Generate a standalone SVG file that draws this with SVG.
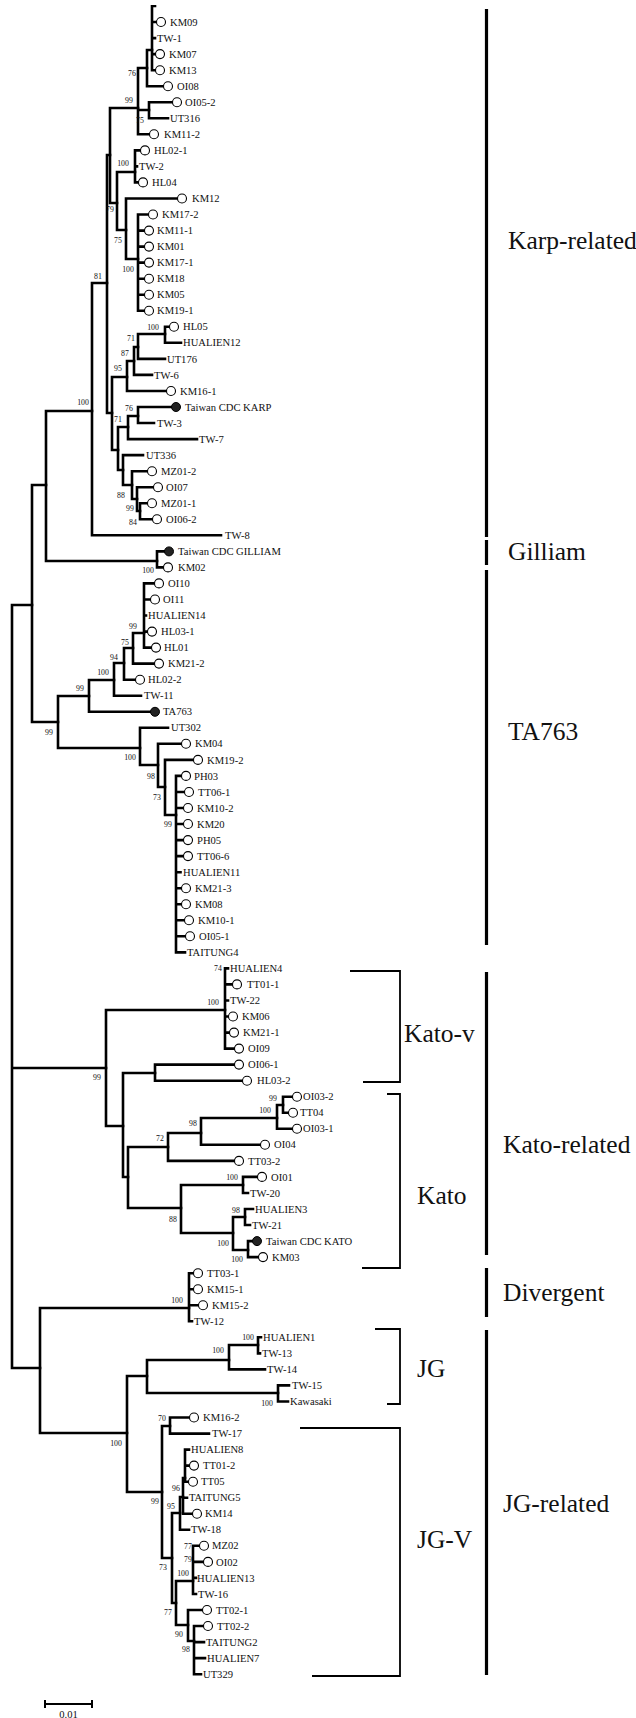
<svg xmlns="http://www.w3.org/2000/svg" width="636" height="1718" viewBox="0 0 636 1718">
<defs>
<style>
.br{fill:none;stroke:#000;stroke-width:2.6;stroke-linecap:square}
text{font-family:"Liberation Serif","Times New Roman",serif;fill:#111}
.lf{font-size:10.6px}
.bs{font-size:7.8px;text-anchor:middle}
.oc{fill:#fff;stroke:#000;stroke-width:1.1}
.fc{fill:#222;stroke:#000;stroke-width:1}
.cl{font-size:25.5px}
.bar{stroke:#000;stroke-width:3.2;fill:none}
.brk{fill:none;stroke:#000;stroke-width:1.8}
</style>
<clipPath id="top"><rect x="0" y="5" width="636" height="1713"/></clipPath>
</defs>
<rect width="636" height="1718" fill="#fff"/>
<g clip-path="url(#top)">
<g id="connectors" class="br">
<path d="M152 6V70.2M152 6H155M152 22H156M152 38.1H155M152 54.1H155.5M152 70.2H155.5"/>
<path d="M147 50V86.2M147 50H152M147 86.2H163"/>
<path d="M149 102.2V118.3M149 102.2H172M149 118.3H168"/>
<path d="M138 68V134.3M138 68H147M138 110H149M138 134.3H149.5"/>
<path d="M110 108V203M110 108H138M110 203H117"/>
<path d="M135 150.4V182.4M135 150.4H140M135 166.4H137M135 182.4H138.5"/>
<path d="M117 172V230M117 172H135M117 230H126"/>
<path d="M126 198.5V259M126 198.5H177M126 259H138"/>
<path d="M138 214.5V310.8M138 214.5H148M138 230.6H144M138 246.6H144M138 262.6H144M138 278.7H144M138 294.7H144M138 310.8H144"/>
<path d="M107 155V413M107 155H110M107 413H112"/>
<path d="M165 326.8V342.8M165 326.8H169.5M165 342.8H181"/>
<path d="M138 334V358.9M138 334H165M138 358.9H165"/>
<path d="M134 347V374.9M134 347H138M134 374.9H152"/>
<path d="M127 361V391M127 361H134M127 391H166.5"/>
<path d="M138 407V423M138 407H171.5M138 423H154"/>
<path d="M128 416V439.1M128 416H138M128 439.1H197"/>
<path d="M123 455.1V485M123 455.1H143M123 485H132"/>
<path d="M132 471.2V499M132 471.2H147.5M132 499H137"/>
<path d="M137 487.2V511M137 487.2H153.5M137 511H140"/>
<path d="M140 503.2V519.3M140 503.2H147.5M140 519.3H152.5"/>
<path d="M118 427V470M118 427H128M118 470H123"/>
<path d="M112 377V450M112 377H127M112 450H118"/>
<path d="M92 283V535.3M92 283H107M92 535.3H221"/>
<path d="M157 551.4V567.4M157 551.4H164.5M157 567.4H163.5"/>
<path d="M46 411V561M46 411H92M46 561H157"/>
<path d="M144 583.4V647.6M144 583.4H154.5M144 599.5H150.5M144 615.5H146M144 631.6H147.5M144 647.6H151.5"/>
<path d="M133 633V663.6M133 633H144M133 663.6H154.5"/>
<path d="M124 648V679.7M124 648H133M124 679.7H135.5"/>
<path d="M114 663V695.7M114 663H124M114 695.7H141"/>
<path d="M89 680V711.8M89 680H114M89 711.8H150.5"/>
<path d="M140 727.8V765M140 727.8H168M140 765H158"/>
<path d="M158 743.8V787M158 743.8H181.5M158 787H165"/>
<path d="M165 759.9V815M165 759.9H193.5M165 815H176"/>
<path d="M176 775.9V952.4M176 775.9H181.5M176 792H184.5M176 808H183.5M176 824H183.5M176 840.1H183.5M176 856.1H183.5M176 872.2H180.5M176 888.2H181.5M176 904.2H181.5M176 920.3H184.5M176 936.3H185.5M176 952.4H185"/>
<path d="M58 696V748M58 696H89M58 748H140"/>
<path d="M32 485V722M32 485H46M32 722H58"/>
<path d="M12 605V1368M12 605H32M12 1068H106M12 1368H40"/>
<path d="M225 968.4V1048.6M225 968.4H228M225 984.4H232.5M225 1000.5H228M225 1016.5H228.5M225 1032.6H229.5M225 1048.6H234.5"/>
<path d="M106 1010V1126M106 1010H225M106 1126H123"/>
<path d="M155 1064.6V1080.7M155 1064.6H234.5M155 1080.7H242.5"/>
<path d="M123 1073V1177M123 1073H155M123 1177H128"/>
<path d="M283 1096.7V1112.8M283 1096.7H292.5M283 1112.8H288.5"/>
<path d="M277 1105V1128.8M277 1105H283M277 1128.8H292.5"/>
<path d="M201 1118V1144.8M201 1118H277M201 1144.8H260.5"/>
<path d="M168 1133V1160.9M168 1133H201M168 1160.9H234.5"/>
<path d="M128 1147V1208M128 1147H168M128 1208H181"/>
<path d="M243 1176.9V1193M243 1176.9H257.5M243 1193H248"/>
<path d="M245 1209V1225M245 1209H253M245 1225H250"/>
<path d="M248 1241.1V1257.1M248 1241.1H252.5M248 1257.1H258.5"/>
<path d="M233 1217V1250M233 1217H245M233 1250H248"/>
<path d="M181 1185V1233M181 1185H243M181 1233H233"/>
<path d="M189 1273.2V1321.3M189 1273.2H193.5M189 1289.2H193.5M189 1305.2H198.5M189 1321.3H192"/>
<path d="M258 1337.3V1353.4M258 1337.3H261M258 1353.4H260"/>
<path d="M229 1345V1369.4M229 1345H258M229 1369.4H265"/>
<path d="M278 1385.4V1401.5M278 1385.4H289M278 1401.5H288"/>
<path d="M147 1360V1393M147 1360H229M147 1393H278"/>
<path d="M170 1417.5V1433.6M170 1417.5H189.5M170 1433.6H209"/>
<path d="M185 1449.6V1481.7M185 1449.6H189M185 1465.6H189.5M185 1481.7H188.5"/>
<path d="M183 1478V1513.8M183 1478H185M183 1497.7H187M183 1513.8H192.5"/>
<path d="M180 1497V1529.8M180 1497H183M180 1529.8H189"/>
<path d="M193 1545.8V1594M193 1545.8H199.5M193 1561.9H203.5M193 1577.9H196M193 1594H196"/>
<path d="M194 1626V1674.2M194 1626H203.5M194 1642.1H204M194 1658.1H205M194 1674.2H201"/>
<path d="M188 1610V1641M188 1610H202.5M188 1641H194"/>
<path d="M176 1581V1625M176 1581H193M176 1625H188"/>
<path d="M172 1513V1603M172 1513H180M172 1603H176"/>
<path d="M162 1426V1558M162 1426H170M162 1558H172"/>
<path d="M127 1376V1492M127 1376H147M127 1492H162"/>
<path d="M40 1308V1433M40 1308H189M40 1433H127"/>
</g>
<g id="leaves" class="lf">
<g id="n-KM09"><circle class="oc" cx="161" cy="22" r="4.5"/><text x="170" y="25.6">KM09</text></g>
<g id="n-TW-1"><text x="157" y="41.7">TW-1</text></g>
<g id="n-KM07"><circle class="oc" cx="160" cy="54.1" r="4.5"/><text x="169" y="57.7">KM07</text></g>
<g id="n-KM13"><circle class="oc" cx="160" cy="70.2" r="4.5"/><text x="169" y="73.8">KM13</text></g>
<g id="n-OI08"><circle class="oc" cx="168" cy="86.2" r="4.5"/><text x="177" y="89.8">OI08</text></g>
<g id="n-OI05-2"><circle class="oc" cx="177" cy="102.2" r="4.5"/><text x="185" y="105.8">OI05-2</text></g>
<g id="n-UT316"><text x="170" y="121.9">UT316</text></g>
<g id="n-KM11-2"><circle class="oc" cx="154" cy="134.3" r="4.5"/><text x="164" y="137.9">KM11-2</text></g>
<g id="n-HL02-1"><circle class="oc" cx="145" cy="150.4" r="4.5"/><text x="154" y="154">HL02-1</text></g>
<g id="n-TW-2"><text x="139" y="170">TW-2</text></g>
<g id="n-HL04"><circle class="oc" cx="143" cy="182.4" r="4.5"/><text x="152" y="186">HL04</text></g>
<g id="n-KM12"><circle class="oc" cx="182" cy="198.5" r="4.5"/><text x="192" y="202.1">KM12</text></g>
<g id="n-KM17-2"><circle class="oc" cx="153" cy="214.5" r="4.5"/><text x="162" y="218.1">KM17-2</text></g>
<g id="n-KM11-1"><circle class="oc" cx="149" cy="230.6" r="4.5"/><text x="157" y="234.2">KM11-1</text></g>
<g id="n-KM01"><circle class="oc" cx="149" cy="246.6" r="4.5"/><text x="157" y="250.2">KM01</text></g>
<g id="n-KM17-1"><circle class="oc" cx="149" cy="262.6" r="4.5"/><text x="157" y="266.2">KM17-1</text></g>
<g id="n-KM18"><circle class="oc" cx="149" cy="278.7" r="4.5"/><text x="157" y="282.3">KM18</text></g>
<g id="n-KM05"><circle class="oc" cx="149" cy="294.7" r="4.5"/><text x="157" y="298.3">KM05</text></g>
<g id="n-KM19-1"><circle class="oc" cx="149" cy="310.8" r="4.5"/><text x="157" y="314.4">KM19-1</text></g>
<g id="n-HL05"><circle class="oc" cx="174" cy="326.8" r="4.5"/><text x="183" y="330.4">HL05</text></g>
<g id="n-HUALIEN12"><text x="183" y="346.4">HUALIEN12</text></g>
<g id="n-UT176"><text x="167" y="362.5">UT176</text></g>
<g id="n-TW-6"><text x="154" y="378.5">TW-6</text></g>
<g id="n-KM16-1"><circle class="oc" cx="171" cy="391" r="4.5"/><text x="180" y="394.6">KM16-1</text></g>
<g id="n-KARP"><circle class="fc" cx="176" cy="407" r="4.5"/><text x="185" y="410.6">Taiwan CDC KARP</text></g>
<g id="n-TW-3"><text x="157" y="426.6">TW-3</text></g>
<g id="n-TW-7"><text x="199" y="442.7">TW-7</text></g>
<g id="n-UT336"><text x="146" y="458.7">UT336</text></g>
<g id="n-MZ01-2"><circle class="oc" cx="152" cy="471.2" r="4.5"/><text x="161" y="474.8">MZ01-2</text></g>
<g id="n-OI07"><circle class="oc" cx="158" cy="487.2" r="4.5"/><text x="166" y="490.8">OI07</text></g>
<g id="n-MZ01-1"><circle class="oc" cx="152" cy="503.2" r="4.5"/><text x="161" y="506.8">MZ01-1</text></g>
<g id="n-OI06-2"><circle class="oc" cx="157" cy="519.3" r="4.5"/><text x="166" y="522.9">OI06-2</text></g>
<g id="n-TW-8"><text x="225" y="538.9">TW-8</text></g>
<g id="n-GILLIAM"><circle class="fc" cx="169" cy="551.4" r="4.5"/><text x="178" y="555">Taiwan CDC GILLIAM</text></g>
<g id="n-KM02"><circle class="oc" cx="168" cy="567.4" r="4.5"/><text x="178" y="571">KM02</text></g>
<g id="n-OI10"><circle class="oc" cx="159" cy="583.4" r="4.5"/><text x="168" y="587">OI10</text></g>
<g id="n-OI11"><circle class="oc" cx="155" cy="599.5" r="4.5"/><text x="163" y="603.1">OI11</text></g>
<g id="n-HUALIEN14"><text x="148" y="619.1">HUALIEN14</text></g>
<g id="n-HL03-1"><circle class="oc" cx="152" cy="631.6" r="4.5"/><text x="161" y="635.2">HL03-1</text></g>
<g id="n-HL01"><circle class="oc" cx="156" cy="647.6" r="4.5"/><text x="164" y="651.2">HL01</text></g>
<g id="n-KM21-2"><circle class="oc" cx="159" cy="663.6" r="4.5"/><text x="168" y="667.2">KM21-2</text></g>
<g id="n-HL02-2"><circle class="oc" cx="140" cy="679.7" r="4.5"/><text x="148" y="683.3">HL02-2</text></g>
<g id="n-TW-11"><text x="144" y="699.3">TW-11</text></g>
<g id="n-TA763"><circle class="fc" cx="155" cy="711.8" r="4.5"/><text x="163" y="715.4">TA763</text></g>
<g id="n-UT302"><text x="171" y="731.4">UT302</text></g>
<g id="n-KM04"><circle class="oc" cx="186" cy="743.8" r="4.5"/><text x="195" y="747.4">KM04</text></g>
<g id="n-KM19-2"><circle class="oc" cx="198" cy="759.9" r="4.5"/><text x="207" y="763.5">KM19-2</text></g>
<g id="n-PH03"><circle class="oc" cx="186" cy="775.9" r="4.5"/><text x="194" y="779.5">PH03</text></g>
<g id="n-TT06-1"><circle class="oc" cx="189" cy="792" r="4.5"/><text x="198" y="795.6">TT06-1</text></g>
<g id="n-KM10-2"><circle class="oc" cx="188" cy="808" r="4.5"/><text x="197" y="811.6">KM10-2</text></g>
<g id="n-KM20"><circle class="oc" cx="188" cy="824" r="4.5"/><text x="197" y="827.6">KM20</text></g>
<g id="n-PH05"><circle class="oc" cx="188" cy="840.1" r="4.5"/><text x="197" y="843.7">PH05</text></g>
<g id="n-TT06-6"><circle class="oc" cx="188" cy="856.1" r="4.5"/><text x="197" y="859.7">TT06-6</text></g>
<g id="n-HUALIEN11"><text x="183" y="875.8">HUALIEN11</text></g>
<g id="n-KM21-3"><circle class="oc" cx="186" cy="888.2" r="4.5"/><text x="195" y="891.8">KM21-3</text></g>
<g id="n-KM08"><circle class="oc" cx="186" cy="904.2" r="4.5"/><text x="195" y="907.8">KM08</text></g>
<g id="n-KM10-1"><circle class="oc" cx="189" cy="920.3" r="4.5"/><text x="198" y="923.9">KM10-1</text></g>
<g id="n-OI05-1"><circle class="oc" cx="190" cy="936.3" r="4.5"/><text x="199" y="939.9">OI05-1</text></g>
<g id="n-TAITUNG4"><text x="187" y="956">TAITUNG4</text></g>
<g id="n-HUALIEN4"><text x="230" y="972">HUALIEN4</text></g>
<g id="n-TT01-1"><circle class="oc" cx="237" cy="984.4" r="4.5"/><text x="247" y="988">TT01-1</text></g>
<g id="n-TW-22"><text x="230" y="1004.1">TW-22</text></g>
<g id="n-KM06"><circle class="oc" cx="233" cy="1016.5" r="4.5"/><text x="242" y="1020.1">KM06</text></g>
<g id="n-KM21-1"><circle class="oc" cx="234" cy="1032.6" r="4.5"/><text x="243" y="1036.2">KM21-1</text></g>
<g id="n-OI09"><circle class="oc" cx="239" cy="1048.6" r="4.5"/><text x="248" y="1052.2">OI09</text></g>
<g id="n-OI06-1"><circle class="oc" cx="239" cy="1064.6" r="4.5"/><text x="248" y="1068.2">OI06-1</text></g>
<g id="n-HL03-2"><circle class="oc" cx="247" cy="1080.7" r="4.5"/><text x="257" y="1084.3">HL03-2</text></g>
<g id="n-OI03-2"><circle class="oc" cx="297" cy="1096.7" r="4.5"/><text x="303" y="1100.3">OI03-2</text></g>
<g id="n-TT04"><circle class="oc" cx="293" cy="1112.8" r="4.5"/><text x="300" y="1116.4">TT04</text></g>
<g id="n-OI03-1"><circle class="oc" cx="297" cy="1128.8" r="4.5"/><text x="303" y="1132.4">OI03-1</text></g>
<g id="n-OI04"><circle class="oc" cx="265" cy="1144.8" r="4.5"/><text x="274" y="1148.4">OI04</text></g>
<g id="n-TT03-2"><circle class="oc" cx="239" cy="1160.9" r="4.5"/><text x="248" y="1164.5">TT03-2</text></g>
<g id="n-OI01"><circle class="oc" cx="262" cy="1176.9" r="4.5"/><text x="271" y="1180.5">OI01</text></g>
<g id="n-TW-20"><text x="250" y="1196.6">TW-20</text></g>
<g id="n-HUALIEN3"><text x="255" y="1212.6">HUALIEN3</text></g>
<g id="n-TW-21"><text x="252" y="1228.6">TW-21</text></g>
<g id="n-KATO"><circle class="fc" cx="257" cy="1241.1" r="4.5"/><text x="266" y="1244.7">Taiwan CDC KATO</text></g>
<g id="n-KM03"><circle class="oc" cx="263" cy="1257.1" r="4.5"/><text x="272" y="1260.7">KM03</text></g>
<g id="n-TT03-1"><circle class="oc" cx="198" cy="1273.2" r="4.5"/><text x="207" y="1276.8">TT03-1</text></g>
<g id="n-KM15-1"><circle class="oc" cx="198" cy="1289.2" r="4.5"/><text x="207" y="1292.8">KM15-1</text></g>
<g id="n-KM15-2"><circle class="oc" cx="203" cy="1305.2" r="4.5"/><text x="212" y="1308.8">KM15-2</text></g>
<g id="n-TW-12"><text x="194" y="1324.9">TW-12</text></g>
<g id="n-HUALIEN1"><text x="263" y="1340.9">HUALIEN1</text></g>
<g id="n-TW-13"><text x="262" y="1357">TW-13</text></g>
<g id="n-TW-14"><text x="267" y="1373">TW-14</text></g>
<g id="n-TW-15"><text x="292" y="1389">TW-15</text></g>
<g id="n-Kawasaki"><text x="290" y="1405.1">Kawasaki</text></g>
<g id="n-KM16-2"><circle class="oc" cx="194" cy="1417.5" r="4.5"/><text x="203" y="1421.1">KM16-2</text></g>
<g id="n-TW-17"><text x="212" y="1437.2">TW-17</text></g>
<g id="n-HUALIEN8"><text x="191" y="1453.2">HUALIEN8</text></g>
<g id="n-TT01-2"><circle class="oc" cx="194" cy="1465.6" r="4.5"/><text x="203" y="1469.2">TT01-2</text></g>
<g id="n-TT05"><circle class="oc" cx="193" cy="1481.7" r="4.5"/><text x="201" y="1485.3">TT05</text></g>
<g id="n-TAITUNG5"><text x="189" y="1501.3">TAITUNG5</text></g>
<g id="n-KM14"><circle class="oc" cx="197" cy="1513.8" r="4.5"/><text x="205" y="1517.4">KM14</text></g>
<g id="n-TW-18"><text x="191" y="1533.4">TW-18</text></g>
<g id="n-MZ02"><circle class="oc" cx="204" cy="1545.8" r="4.5"/><text x="212" y="1549.4">MZ02</text></g>
<g id="n-OI02"><circle class="oc" cx="208" cy="1561.9" r="4.5"/><text x="216" y="1565.5">OI02</text></g>
<g id="n-HUALIEN13"><text x="197" y="1581.5">HUALIEN13</text></g>
<g id="n-TW-16"><text x="198" y="1597.6">TW-16</text></g>
<g id="n-TT02-1"><circle class="oc" cx="207" cy="1610" r="4.5"/><text x="216" y="1613.6">TT02-1</text></g>
<g id="n-TT02-2"><circle class="oc" cx="208" cy="1626" r="4.5"/><text x="217" y="1629.6">TT02-2</text></g>
<g id="n-TAITUNG2"><text x="206" y="1645.7">TAITUNG2</text></g>
<g id="n-HUALIEN7"><text x="207" y="1661.7">HUALIEN7</text></g>
<g id="n-UT329"><text x="203" y="1677.8">UT329</text></g>
</g>
<g id="bootstrap" class="bs">
<text x="132" y="75.8">76</text><text x="129" y="102.8">99</text><text x="140" y="122.8">75</text>
<text x="123" y="165.8">100</text><text x="110" y="211.8">79</text><text x="118" y="242.8">75</text>
<text x="128" y="271.8">100</text><text x="98" y="278.8">81</text><text x="153" y="329.8">100</text>
<text x="131" y="340.8">71</text><text x="125" y="355.8">87</text><text x="118" y="370.8">95</text>
<text x="129" y="410.8">76</text><text x="83" y="404.8">100</text><text x="118" y="421.8">71</text>
<text x="121" y="497.8">88</text><text x="130" y="510.8">99</text><text x="133" y="524.8">84</text>
<text x="148" y="572.8">100</text><text x="133" y="628.8">99</text><text x="125" y="644.8">75</text>
<text x="114" y="659.8">94</text><text x="103" y="674.8">100</text><text x="80" y="690.8">99</text>
<text x="49" y="734.8">99</text><text x="130" y="759.8">100</text><text x="151" y="778.8">98</text>
<text x="157" y="799.8">73</text><text x="168" y="826.8">99</text><text x="218" y="970.8">74</text>
<text x="213" y="1004.8">100</text><text x="97" y="1079.8">99</text><text x="273" y="1100.8">99</text>
<text x="265" y="1112.8">100</text><text x="193" y="1125.8">98</text><text x="160" y="1140.8">72</text>
<text x="232" y="1179.8">100</text><text x="236" y="1212.8">98</text><text x="173" y="1221.8">88</text>
<text x="223" y="1245.8">100</text><text x="237" y="1261.8">100</text><text x="177" y="1302.8">100</text>
<text x="248" y="1339.8">100</text><text x="218" y="1352.8">100</text><text x="267" y="1405.8">100</text>
<text x="162" y="1420.8">70</text><text x="116" y="1445.8">100</text><text x="176" y="1490.8">96</text>
<text x="155" y="1503.8">99</text><text x="171" y="1508.8">95</text><text x="163" y="1569.8">73</text>
<text x="188" y="1548.8">77</text><text x="188" y="1561.8">79</text><text x="183" y="1575.8">100</text>
<text x="168" y="1614.8">77</text><text x="179" y="1636.8">90</text><text x="186" y="1651.8">98</text>
</g>
</g>
<g id="clade-Karp-related"><path class="bar" d="M486.5 9V537"/><text class="cl" x="508" y="249">Karp-related</text></g>
<g id="clade-Gilliam"><path class="bar" d="M486.5 540V565"/><text class="cl" x="508" y="559.5">Gilliam</text></g>
<g id="clade-TA763"><path class="bar" d="M486.5 570V945"/><text class="cl" x="508" y="739.5">TA763</text></g>
<g id="clade-Kato-v"><path class="brk" d="M350 971H400V1082H363"/><text class="cl" x="404" y="1041.5">Kato-v</text></g>
<g id="clade-Kato"><path class="brk" d="M387 1094H400V1268H362"/><text class="cl" x="417" y="1203.5">Kato</text></g>
<g id="clade-Kato-related"><path class="bar" d="M486.5 972V1255"/><text class="cl" x="503" y="1152.5">Kato-related</text></g>
<g id="clade-Divergent"><path class="bar" d="M486.5 1268V1317"/><text class="cl" x="503" y="1300.5">Divergent</text></g>
<g id="clade-JG"><path class="brk" d="M375 1329H400V1404H387"/><text class="cl" x="417" y="1376.5">JG</text></g>
<g id="clade-JG-V"><path class="brk" d="M300 1428H400V1676H312"/><text class="cl" x="417" y="1547.5">JG-V</text></g>
<g id="clade-JG-related"><path class="bar" d="M486.5 1330V1675"/><text class="cl" x="503" y="1511.5">JG-related</text></g>
<g id="scale"><path d="M45 1704H92M45 1700V1708M92 1700V1708" stroke="#000" stroke-width="2" fill="none"/><text class="lf" x="68.5" y="1718" text-anchor="middle">0.01</text></g>
</svg>
